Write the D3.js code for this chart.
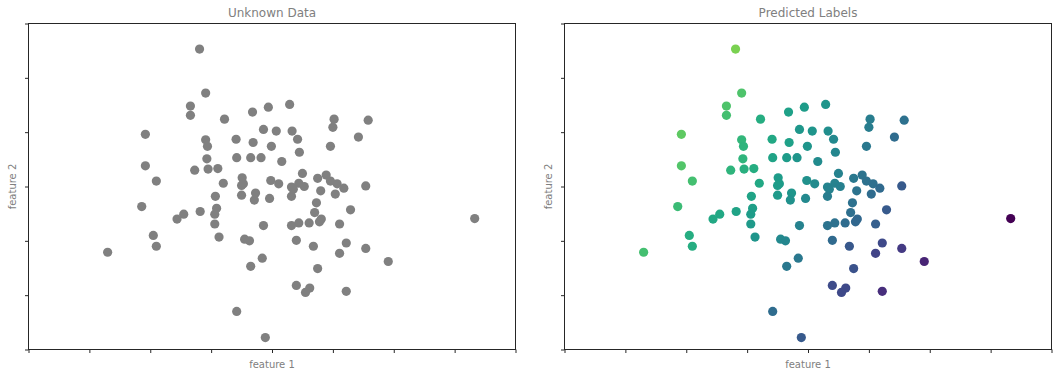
<!DOCTYPE html>
<html>
<head>
<meta charset="UTF-8">
<title>Unknown Data / Predicted Labels</title>
<script src="https://d3js.org/d3.v7.min.js"></script>
<style>
  body { margin: 0; background: #fff; font-family: "DejaVu Sans", sans-serif; }
  .title { fill: #808080; font-size: 12px; }
  .axis-label { fill: #808080; font-size: 10px; }
  .axis path { display: none; }
  .axis line { stroke: #262626; }
</style>
</head>
<body>
<svg id="chart" width="1057" height="377"></svg>
<script>
// feature values of each sample
const feature1 = [-1.19,-1.09,-1.34,-1.34,-0.78,-0.32,-0.06,0.29,1.02,1.00,
  1.58,-2.08,-0.14,0.07,0.33,0.42,1.42,-1.09,-1.06,-0.59,
  -0.31,-0.01,0.45,0.96,-1.07,-0.58,-0.35,-0.18,0.16,-2.08,
  -1.27,-1.05,-0.89,0.50,0.89,0.75,0.96,1.07,1.18,1.54,
  -1.90,-0.80,-0.49,-0.47,-0.50,-0.02,0.11,0.32,0.35,0.44,
  0.53,0.32,-0.27,-0.29,-0.50,-0.04,-0.93,0.80,1.04,0.73,
  0.70,1.29,-2.14,-1.18,-0.91,-0.94,-1.45,-1.56,-0.94,-0.14,
  0.32,0.44,0.61,0.78,0.81,1.11,3.33,-1.95,-1.90,-0.87,
  -0.45,-0.37,0.40,0.68,1.22,1.54,-2.70,1.11,-0.16,1.91,
  -0.35,0.75,0.40,0.62,0.55,1.22,-0.58,-0.11];
const feature2 = [2.53,1.72,1.48,1.31,1.24,1.37,1.46,1.51,1.24,1.09,
  1.22,0.96,1.05,1.02,1.02,0.87,0.91,0.86,0.74,0.87,
  0.81,0.74,0.63,0.74,0.51,0.53,0.53,0.53,0.46,0.38,
  0.30,0.32,0.33,0.24,0.21,0.15,0.10,0.05,-0.03,0.01,
  0.10,0.06,0.16,0.05,0.02,0.11,0.05,-0.01,-0.05,0.06,
  0.00,-0.18,-0.12,-0.25,-0.16,-0.22,-0.18,-0.08,-0.14,-0.30,
  -0.48,-0.43,-0.37,-0.46,-0.40,-0.51,-0.51,-0.60,-0.69,-0.72,
  -0.72,-0.67,-0.67,-0.65,-0.60,-0.69,-0.59,-0.90,-1.10,-0.93,
  -0.97,-1.00,-0.99,-1.10,-1.04,-1.14,-1.21,-1.23,-1.32,-1.38,
  -1.47,-1.51,-1.82,-1.87,-1.95,-1.93,-2.30,-2.78];
// predicted label of each sample (colour position on viridis)
const predicted = [0.80,0.72,0.72,0.70,0.62,0.57,0.55,0.52,0.42,0.42,
  0.37,0.75,0.53,0.52,0.49,0.47,0.35,0.66,0.65,0.60,
  0.57,0.52,0.46,0.40,0.65,0.58,0.55,0.52,0.48,0.73,
  0.65,0.63,0.62,0.44,0.38,0.40,0.37,0.36,0.34,0.28,
  0.70,0.60,0.55,0.55,0.55,0.50,0.48,0.45,0.44,0.44,
  0.43,0.42,0.52,0.50,0.54,0.47,0.58,0.38,0.35,0.37,
  0.36,0.28,0.68,0.58,0.56,0.55,0.60,0.60,0.54,0.44,
  0.38,0.37,0.35,0.33,0.33,0.30,0.00,0.62,0.62,0.52,
  0.47,0.46,0.34,0.27,0.22,0.17,0.70,0.20,0.40,0.10,
  0.40,0.25,0.23,0.22,0.22,0.13,0.35,0.28];

const xTicks = [-4,-3,-2,-1,0,1,2,3,4];
const yTicks = [-3,-2,-1,0,1,2,3];

const points = feature1.map((v, i) => ({ f1: v, f2: feature2[i], label: predicted[i] }));

const svg = d3.select("#chart");
const plotTop = 23.5, plotBottom = 349.5, plotW = 487;

function panel(left, title, colorOf) {
  const x = d3.scaleLinear().domain([-4, 4]).range([left, left + plotW]);
  const y = d3.scaleLinear().domain([-3, 3]).range([plotBottom, plotTop]);
  const g = svg.append("g");

  g.append("g").attr("class", "axis")
    .attr("transform", `translate(0,${plotBottom})`)
    .call(d3.axisBottom(x).tickValues(xTicks).tickFormat("").tickSizeInner(3.5).tickSizeOuter(0));
  g.append("g").attr("class", "axis")
    .attr("transform", `translate(${left},0)`)
    .call(d3.axisLeft(y).tickValues(yTicks).tickFormat("").tickSizeInner(3.5).tickSizeOuter(0));

  g.append("rect")
    .attr("x", left).attr("y", plotTop)
    .attr("width", plotW).attr("height", plotBottom - plotTop)
    .attr("fill", "none").attr("stroke", "#262626").attr("stroke-width", 1);

  g.selectAll("circle").data(points).enter().append("circle")
    .attr("cx", d => x(d.f1))
    .attr("cy", d => y(d.f2))
    .attr("r", 4.6)
    .attr("fill", colorOf);

  g.append("text").attr("class", "title")
    .attr("x", left + plotW / 2).attr("y", 17)
    .attr("text-anchor", "middle").text(title);
  g.append("text").attr("class", "axis-label")
    .attr("x", left + plotW / 2).attr("y", 368)
    .attr("text-anchor", "middle").text("feature 1");
  g.append("text").attr("class", "axis-label")
    .attr("transform", `translate(${left - 13},${(plotTop + plotBottom) / 2}) rotate(-90)`)
    .attr("text-anchor", "middle").text("feature 2");
}

panel(28.5, "Unknown Data", () => "#808080");
panel(564.5, "Predicted Labels", d => d3.interpolateViridis(d.label));
</script>
</body>
</html>
